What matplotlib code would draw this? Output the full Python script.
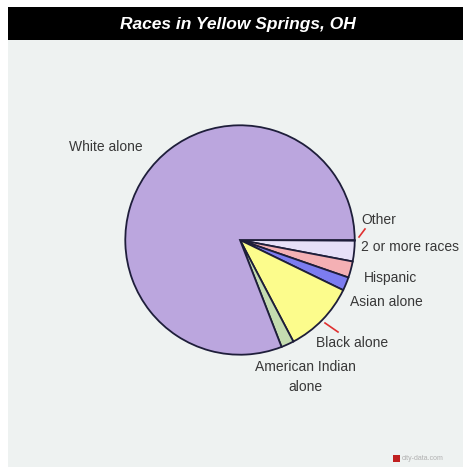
import matplotlib.pyplot as plt
from matplotlib.patches import Rectangle

plt.rcParams['font.family'] = ['Liberation Sans', 'DejaVu Sans']

# Race shares in percent, clockwise from 3 o'clock
races = ["Other", "2 or more races", "Hispanic", "Asian alone",
         "Black alone", "American Indian alone", "White alone"]
shares = [0.1, 2.9, 2.3, 1.9, 10.1, 1.8, 80.9]
colors = ["#f0c8e0", "#e6e0f8", "#f4b0b4", "#7c7cf0", "#fcfc8c", "#c4dcb0", "#bba6de"]

W, H = 464, 467
fig = plt.figure(figsize=(W / 100, H / 100), dpi=100)
fig.patch.set_facecolor("white")

def px(x, y):
    return x / W, 1 - y / H

# background panel and title bar
fig.patches.append(Rectangle(px(8, 467), (W - 8) / W, 427 / H, transform=fig.transFigure,
                             facecolor="#eef2f1", edgecolor="none", zorder=-2))
fig.patches.append(Rectangle(px(8, 40), (W - 8) / W, 33 / H, transform=fig.transFigure,
                             facecolor="black", edgecolor="none", zorder=-1))
fig.text(*px(238, 24), "Races in Yellow Springs, OH", color="white", fontsize=12.5,
         fontweight="bold", fontstyle="italic", ha="center", va="center")

# pie
cx, cy, r = 240, 240, 117
ax = fig.add_axes([(cx - r) / W, (H - cy - r) / H, 2 * r / W, 2 * r / H])
ax.set_zorder(5)
ax.patch.set_visible(False)
ax.pie(shares, colors=colors, startangle=0, counterclock=False, radius=1,
       wedgeprops=dict(edgecolor="#1e1e3a", linewidth=1.3))
ax.set_xlim(-1.02, 1.02)
ax.set_ylim(-1.02, 1.02)
ax.set_aspect("equal")
ax.axis("off")

# labels
lab = dict(fontsize=10, color="#383838", va="center")
fig.text(*px(106, 147), "White alone", ha="center", **lab)
fig.text(*px(361, 220), "Other", ha="left", **lab)
fig.text(*px(361, 247), "2 or more races", ha="left", **lab)
fig.text(*px(364, 278), "Hispanic", ha="left", **lab)
fig.text(*px(350, 302), "Asian alone", ha="left", **lab)
fig.text(*px(316, 343), "Black alone", ha="left", **lab)
fig.text(*px(305, 377), "American Indian\nalone", ha="center", linespacing=1.5, **lab)

# red leader lines
for (x1, y1), (x2, y2) in [((359, 237), (365, 229)), ((325, 323), (338, 332))]:
    fig.add_artist(plt.Line2D([x1 / W, x2 / W], [1 - y1 / H, 1 - y2 / H],
                              transform=fig.transFigure, color="#e03030", linewidth=1.2))

# watermark
fig.patches.append(Rectangle(px(393, 462), 7 / W, 7 / H, transform=fig.transFigure,
                             facecolor="#c02020", edgecolor="none", zorder=2))
fig.text(*px(402, 459), "city-data.com", fontsize=5, color="#b0b0b0", ha="left", va="center")

fig.savefig("out.png", dpi=100)
